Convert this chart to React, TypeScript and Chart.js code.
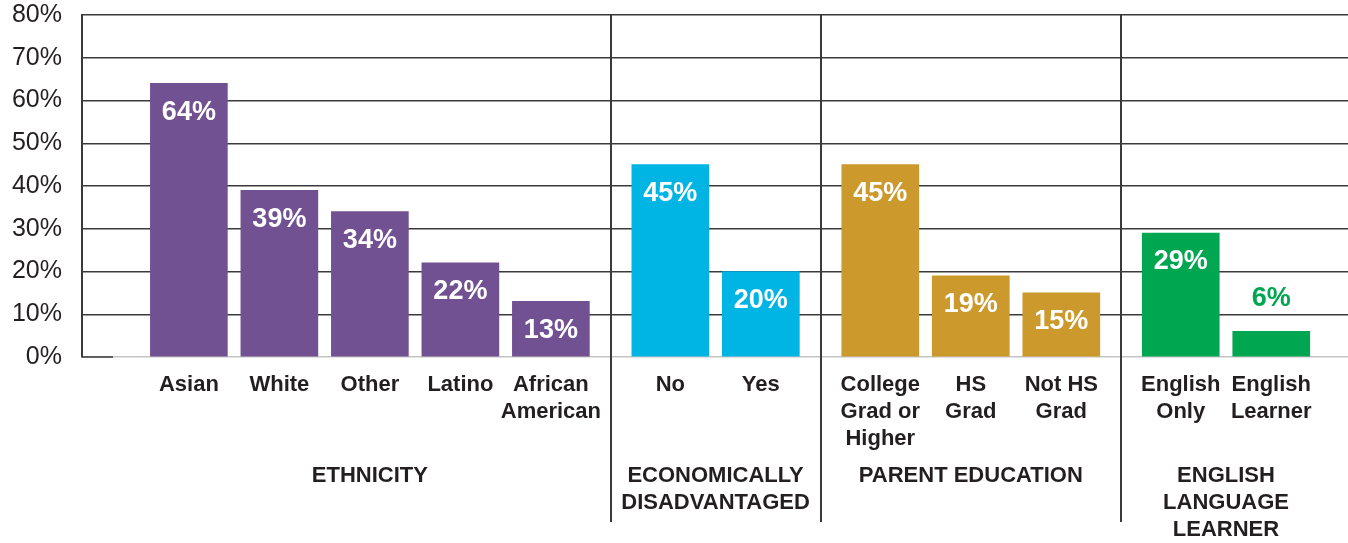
import { useEffect, useRef } from "react";
import { Chart, registerables } from "chart.js";

Chart.register(...registerables);

const FONT = "'Liberation Sans', Arial, Helvetica, sans-serif";
const TEXT = "#231f20";
const GRID = "#3a3a3a";

const categories: string[][] = [
  ["Asian"],
  ["White"],
  ["Other"],
  ["Latino"],
  ["African", "American"],
  ["No"],
  ["Yes"],
  ["College", "Grad or", "Higher"],
  ["HS", "Grad"],
  ["Not HS", "Grad"],
  ["English", "Only"],
  ["English", "Learner"],
];
const values = [64, 39, 34, 22, 13, 45, 20, 45, 19, 15, 29, 6];
const groupOf = [0, 0, 0, 0, 0, 1, 1, 2, 2, 2, 3, 3];
const groupNames: string[][] = [
  ["ETHNICITY"],
  ["ECONOMICALLY", "DISADVANTAGED"],
  ["PARENT EDUCATION"],
  ["ENGLISH", "LANGUAGE", "LEARNER"],
];
const groupColors = ["#715192", "#00b4e4", "#cc992d", "#00a650"];
const outsideLabelColor = "#00a650";
const yMin = 0;
const yMax = 80;
const yStep = 10;

const GROUP_GAP = 0.32;
const X_MIN = -1.181;
const X_MAX = 12.808;

export default function App() {
  const ref = useRef<HTMLCanvasElement>(null);

  useEffect(() => {
    document.body.style.margin = "0";
    const positions = values.map((_, i) => i + GROUP_GAP * groupOf[i]);

    const annotate = {
      id: "annotate",
      afterDraw(chart: any) {
        const ctx = chart.ctx;
        const xs = chart.scales.x;
        const ys = chart.scales.y;
        const area = chart.chartArea;
        ctx.save();

        const y0 = ys.getPixelForValue(0);
        ctx.strokeStyle = GRID;
        ctx.lineWidth = 1.5;
        ctx.beginPath();
        ctx.moveTo(area.left, y0);
        ctx.lineTo(area.left + 31, y0);
        ctx.stroke();

        const meta = chart.getDatasetMeta(0);
        ctx.font = `bold 27px ${FONT}`;
        ctx.textAlign = "center";
        ctx.textBaseline = "middle";
        meta.data.forEach((bar: any, i: number) => {
          const v = values[i];
          if (v >= 10) {
            ctx.fillStyle = "#ffffff";
            ctx.fillText(v + "%", bar.x, bar.y + 29);
          } else {
            ctx.fillStyle = outsideLabelColor;
            ctx.fillText(v + "%", bar.x, bar.y - 33);
          }
        });

        ctx.strokeStyle = GRID;
        ctx.lineWidth = 2;
        for (let i = 0; i < values.length - 1; i++) {
          if (groupOf[i] !== groupOf[i + 1]) {
            const x = Math.round(
              (xs.getPixelForValue(positions[i]) + xs.getPixelForValue(positions[i + 1])) / 2
            );
            ctx.beginPath();
            ctx.moveTo(x, area.top);
            ctx.lineTo(x, chart.height - 21);
            ctx.stroke();
          }
        }

        ctx.font = `bold 22px ${FONT}`;
        ctx.fillStyle = TEXT;
        groupNames.forEach((lines, g) => {
          const idx = positions.filter((_, i) => groupOf[i] === g);
          const cx =
            (xs.getPixelForValue(idx[0]) + xs.getPixelForValue(idx[idx.length - 1])) / 2;
          lines.forEach((line, k) => {
            ctx.fillText(line, cx, 476 + k * 27);
          });
        });
        ctx.restore();
      },
    };

    const chart = new Chart(ref.current!, {
      type: "bar",
      data: {
        datasets: [
          {
            data: positions.map((x, i) => ({ x, y: values[i] })),
            backgroundColor: values.map((_, i) => groupColors[groupOf[i]]),
            barThickness: 77,
          },
        ],
      },
      options: {
        animation: false,
        responsive: true,
        maintainAspectRatio: false,
        layout: { padding: { top: 15, right: 0, left: 0, bottom: 77 } },
        plugins: { legend: { display: false }, tooltip: { enabled: false } },
        scales: {
          x: {
            type: "linear",
            offset: false,
            min: X_MIN,
            max: X_MAX,
            grid: { display: false, drawTicks: false },
            border: { display: false },
            afterBuildTicks: (s: any) => {
              s.ticks = positions.map((v) => ({ value: v }));
            },
            afterFit: (s: any) => {
              s.paddingLeft = 0;
              s.paddingRight = 0;
            },
            ticks: {
              autoSkip: false,
              maxRotation: 0,
              minRotation: 0,
              padding: 14,
              color: TEXT,
              font: { family: FONT, size: 22, weight: "bold", lineHeight: 27 / 22 },
              callback: (v: any) => {
                const i = positions.findIndex((p) => Math.abs(p - Number(v)) < 1e-6);
                return i >= 0 ? categories[i] : "";
              },
            },
          },
          y: {
            min: yMin,
            max: yMax,
            afterFit: (s: any) => {
              s.width = 82;
              s.paddingTop = 0;
              s.paddingBottom = 0;
            },
            ticks: {
              stepSize: yStep,
              padding: 20,
              color: TEXT,
              font: { family: FONT, size: 25 },
              callback: (v: any) => v + "%",
            },
            grid: {
              color: (c: any) => (c.tick && c.tick.value === 0 ? "#c4c4c4" : GRID),
              lineWidth: 1.5,
              drawTicks: false,
            },
            border: { color: GRID, width: 2 },
          },
        },
      } as any,
      plugins: [annotate],
    });
    return () => chart.destroy();
  }, []);

  return (
    <div style={{ width: 1348, height: 543, position: "relative" }}>
      <canvas ref={ref} />
    </div>
  );
}
